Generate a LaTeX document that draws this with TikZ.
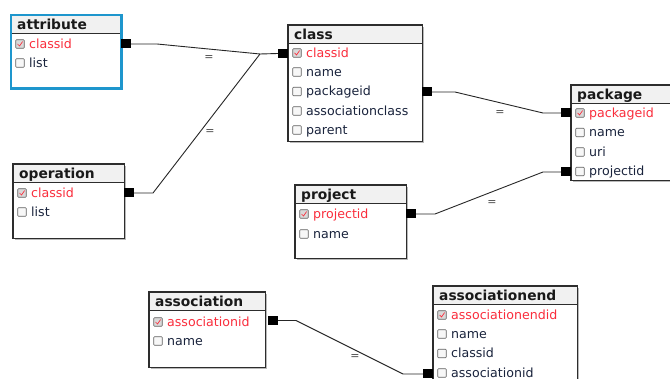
\documentclass[tikz,border=0pt]{standalone}
\usepackage{fontspec}
\setmainfont{DejaVu Sans}
\definecolor{keyred}{RGB}{250,45,60}
\definecolor{rowtext}{RGB}{25,35,60}
\definecolor{hdrfill}{RGB}{241,241,241}
\definecolor{bordc}{RGB}{45,45,45}
\definecolor{selblue}{RGB}{30,150,205}
\definecolor{shadowc}{RGB}{185,185,185}
\tikzset{
 x=1pt,y=-1pt,
 tbox/.style={fill=white, inner sep=0, anchor=north west},
 ttl/.style={font=\bfseries\fontsize{13.8}{14}\selectfont, text=black!90, anchor=base west, inner sep=0},
 fld/.style={font=\fontsize{12.6}{13}\selectfont, text=rowtext, anchor=base west, inner sep=0},
 keyfld/.style={fld, text=keyred},
 cbox/.style={draw=gray!75!black, fill=gray!6, minimum size=8.5pt, inner sep=0, rounded corners=0.8pt, line width=0.6pt},
 cboxk/.style={cbox, fill=gray!30},
 conn/.style={draw=black!85, line width=0.9pt},
 endsq/.style={fill=black, minimum width=10pt, minimum height=9pt, inner sep=0},
 eqlbl/.style={font=\fontsize{11}{11}\selectfont, text=black!70, inner sep=0},
}
% name, left, top, width, height, title, border colour, border width
\newcommand\dtbl[8]{%
 \fill[shadowc] (#2+2,#3+2) rectangle (#2+#4+2,#3+#5+2);
 \node[tbox, minimum width=#4pt, minimum height=#5pt] (#1) at (#2,#3) {};
 \fill[hdrfill] (#2,#3) rectangle (#2+#4,#3+19);
 \draw[bordc, line width=1pt] (#2,#3+19) -- (#2+#4,#3+19);
 \draw[#7, line width=#8] (#1.north west) rectangle (#1.south east);
 \node[ttl] (#1-t) at (#2+6,#3+15) {#6};
}
% name, left, y, text
\newcommand\krow[4]{%
 \node[cboxk] (#1-c) at (#2+9,#3) {};
 \draw[keyred, line width=0.7pt] ([shift={(-2.5,0)}]#1-c.center) -- ([shift={(-0.5,2)}]#1-c.center) -- ([shift={(2.6,-2.4)}]#1-c.center);
 \node[keyfld] (#1) at (#2+18,#3+4.5) {#4};
}
\newcommand\frow[4]{%
 \node[cbox] (#1-c) at (#2+9,#3) {};
 \node[fld] (#1) at (#2+18,#3+4.5) {#4};
}
\begin{document}
\begin{tikzpicture}
\useasboundingbox (0,0) rectangle (670,379);
\fill[white] (0,0) rectangle (670,379);
% tables
\dtbl{attribute}{11}{15}{110}{73}{attribute}{selblue}{2.4pt}
\krow{attr-classid}{11}{44}{classid}
\frow{attr-list}{11}{63}{list}

\dtbl{class}{288}{25}{134}{116}{class}{bordc}{1.4pt}
\krow{cls-classid}{288}{53}{classid}
\frow{cls-name}{288}{72}{name}
\frow{cls-packageid}{288}{91.5}{packageid}
\frow{cls-assoc}{288}{111}{associationclass}
\frow{cls-parent}{288}{130}{parent}

\dtbl{package}{571}{85}{110}{95}{package}{bordc}{1.4pt}
\krow{pkg-packageid}{571}{113}{packageid}
\frow{pkg-name}{571}{132.5}{name}
\frow{pkg-uri}{571}{152}{uri}
\frow{pkg-projectid}{571}{171.5}{projectid}

\dtbl{operation}{13}{164}{111}{74}{operation}{bordc}{1.4pt}
\krow{op-classid}{13}{193}{classid}
\frow{op-list}{13}{212}{list}

\dtbl{project}{295}{185}{111}{73}{project}{bordc}{1.4pt}
\krow{prj-projectid}{295}{214}{projectid}
\frow{prj-name}{295}{234}{name}

\dtbl{association}{149}{292}{116}{75}{association}{bordc}{1.4pt}
\krow{as-id}{149}{322}{associationid}
\frow{as-name}{149}{341}{name}

\dtbl{associationend}{433}{286}{144}{110}{associationend}{bordc}{1.4pt}
\krow{ae-id}{433}{315}{associationendid}
\frow{ae-name}{433}{334}{name}
\frow{ae-classid}{433}{353.5}{classid}
\frow{ae-associd}{433}{373}{associationid}

% connector ends
\node[endsq] (s1) at (126,44) {};
\node[endsq] (s2) at (283,53.5) {};
\node[endsq] (s3) at (129,193) {};
\node[endsq] (s4) at (427,92) {};
\node[endsq] (s5) at (566,113) {};
\node[endsq] (s6) at (411,214) {};
\node[endsq] (s7) at (566,172) {};
\node[endsq] (s8) at (273,320.5) {};
\node[endsq] (s9) at (428,374) {};
% bends
\coordinate (b1) at (157,44);
\coordinate (b2) at (260,54);
\coordinate (b3) at (153,193);
\coordinate (b4) at (455,92);
\coordinate (b5) at (543,113);
\coordinate (b6) at (435,214);
\coordinate (b7) at (543,172);
\coordinate (b8) at (296,320.5);
\coordinate (b9) at (403,374);
% connectors
\draw[conn] (s1.east) -- (b1) -- (b2) -- (s2.west);
\draw[conn] (s3.east) -- (b3) -- (b2);
\draw[conn] (s4.east) -- (b4) -- (b5) -- (s5.west);
\draw[conn] (s6.east) -- (b6) -- (b7) -- (s7.west);
\draw[conn] (s8.east) -- (b8) -- (b9) -- (s9.west);
% labels
\node[eqlbl] (e1) at (209,58) {=};
\node[eqlbl] (e2) at (210,132) {=};
\node[eqlbl] (e3) at (500,113) {=};
\node[eqlbl] (e4) at (492,203) {=};
\node[eqlbl] (e5) at (355,357) {=};
\end{tikzpicture}
\end{document}
